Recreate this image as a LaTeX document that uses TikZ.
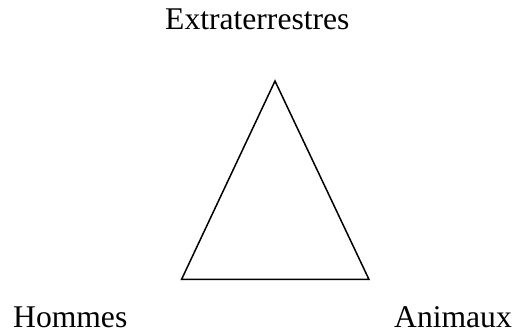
\documentclass[tikz,border=0pt]{standalone}
\usepackage{fontspec}
\setmainfont{Liberation Serif}
\begin{document}
\begin{tikzpicture}[x=1pt,y=1pt,
  lbl/.style={anchor=base west,inner sep=0pt,font=\fontsize{31.6}{38}\selectfont}]
\useasboundingbox (0,0) rectangle (515,335);
\coordinate (T) at (275,254);
\coordinate (L) at (181.5,55.5);
\coordinate (R) at (369,55.5);
\draw[line width=1.5pt,line join=miter] (T) -- (L) -- (R) -- cycle;
\node[lbl] (ext) at (165,305.5) {Extraterrestres};
\node[lbl] (hom) at (13,7.2) {Hommes};
\node[lbl] (ani) at (394,7.2) {Animaux};
\end{tikzpicture}
\end{document}
